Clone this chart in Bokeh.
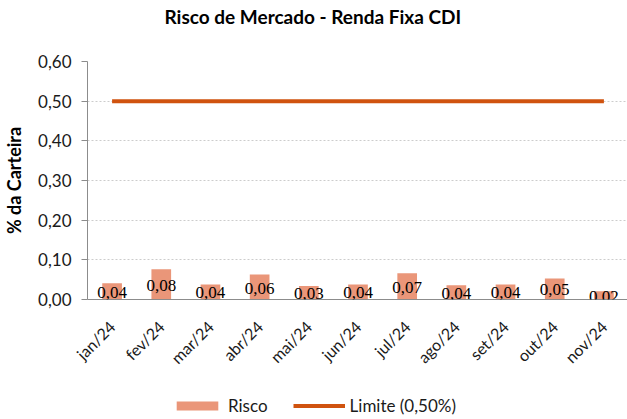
from bokeh.plotting import figure
from bokeh.layouts import column
from bokeh.models import (Range1d, FixedTicker, CustomJSTickFormatter, Legend, LegendItem,
                          ColumnDataSource, LabelSet, Title)
from bokeh.embed import file_html
from bokeh.resources import INLINE
from math import pi

months = ["jan/24", "fev/24", "mar/24", "abr/24", "mai/24", "jun/24",
          "jul/24", "ago/24", "set/24", "out/24", "nov/24"]
risco = [0.041, 0.076, 0.038, 0.063, 0.034, 0.038, 0.066, 0.036, 0.038, 0.053, 0.021]
limite = [0.50] * len(months)
y_ticks = [0.0, 0.1, 0.2, 0.3, 0.4, 0.5, 0.6]
title_text = "Risco de Mercado - Renda Fixa CDI"
legend_labels = ["Risco", "Limite (0,50%)"]

FONT = "Lato"
BAR_COLOR = "#EA9679"
LINE_COLOR = "#D0530F"
TEXT_COLOR = "#1a1a1a"

src = ColumnDataSource(dict(
    m=months, r=risco, half=[v / 2 for v in risco],
    lab=[f"{v:.2f}".replace(".", ",") for v in risco], lim=limite))

p = figure(x_range=months, y_range=Range1d(0, 0.6),
           frame_width=541, frame_height=238,
           output_backend="svg", toolbar_location=None,
           min_border_left=86, min_border_right=0, min_border_top=0, min_border_bottom=0)

p.title.text = title_text
p.title.text_font = FONT
p.title.text_font_size = "19px"
p.title.text_font_style = "bold"
p.title.align = "left"
p.title.offset = 77
p.title.standoff = 4
p.title.text_color = "#000000"

# empty spacer between the title and the plot area
p.add_layout(Title(text=" ", text_font=FONT, text_font_size="19px", standoff=7), "above")

p.outline_line_color = None
p.background_fill_color = "white"
p.border_fill_color = "white"

bars = p.vbar(x="m", top="r", width=0.4, source=src, fill_color=BAR_COLOR, line_color=None)
line = p.line(x="m", y="lim", source=src, line_color=LINE_COLOR, line_width=4)

labels = LabelSet(x="m", y="half", text="lab", source=src, text_align="center",
                  text_baseline="middle", text_font=FONT, text_font_size="17px",
                  text_color="#000000", y_offset=-1)
p.add_layout(labels)

p.yaxis.ticker = FixedTicker(ticks=y_ticks)
p.yaxis.formatter = CustomJSTickFormatter(code="return tick.toFixed(2).replace('.', ',');")
p.yaxis.axis_label = "% da Carteira"
p.yaxis.axis_label_text_font = FONT
p.yaxis.axis_label_text_font_size = "18px"
p.yaxis.axis_label_text_font_style = "bold"
p.yaxis.axis_label_text_color = "#000000"
p.yaxis.axis_label_standoff = 10
p.yaxis.major_label_text_font = FONT
p.yaxis.major_label_text_font_size = "17px"
p.yaxis.major_label_text_color = TEXT_COLOR
p.yaxis.major_label_standoff = 10
p.yaxis.major_tick_out = 6
p.yaxis.major_tick_in = 0
p.yaxis.minor_tick_line_color = None
p.yaxis.axis_line_color = "#8c8c8c"
p.yaxis.major_tick_line_color = "#8c8c8c"

p.xaxis.major_label_orientation = pi / 4
p.xaxis.major_label_text_font = FONT
p.xaxis.major_label_text_font_size = "16px"
p.xaxis.major_label_text_color = TEXT_COLOR
p.xaxis.major_tick_line_color = None
p.xaxis.axis_line_color = "#8c8c8c"
p.xaxis.major_label_standoff = 18

p.xgrid.grid_line_color = None
p.ygrid.grid_line_color = "#cccccc"
p.ygrid.grid_line_dash = "2 2"

# legend strip below the chart: same series with the same styles, drawn outside its view
lg = figure(x_range=months, y_range=Range1d(10, 11), width=627, height=41,
            output_backend="svg", toolbar_location=None,
            x_axis_type=None, y_axis_type=None, min_border=0)
lg.outline_line_color = None
lg.xgrid.grid_line_color = None
lg.ygrid.grid_line_color = None
lg_bar = lg.vbar(x="m", top="r", width=0.4, source=src, fill_color=BAR_COLOR, line_color=None)
lg_line = lg.line(x="m", y="lim", source=src, line_color=LINE_COLOR, line_width=4)
legend = Legend(items=[LegendItem(label=legend_labels[0], renderers=[lg_bar]),
                       LegendItem(label=legend_labels[1], renderers=[lg_line])],
                orientation="horizontal", location=(84, 1))
legend.label_text_font = FONT
legend.label_text_font_size = "17px"
legend.label_text_color = TEXT_COLOR
legend.glyph_width = 52
legend.glyph_height = 11
legend.label_standoff = 5
legend.spacing = 25
legend.border_line_color = None
legend.background_fill_alpha = 0
legend.margin = 0
legend.padding = 0
lg.add_layout(legend)

open("out.html", "w").write(file_html(column(p, lg, spacing=0), INLINE))
